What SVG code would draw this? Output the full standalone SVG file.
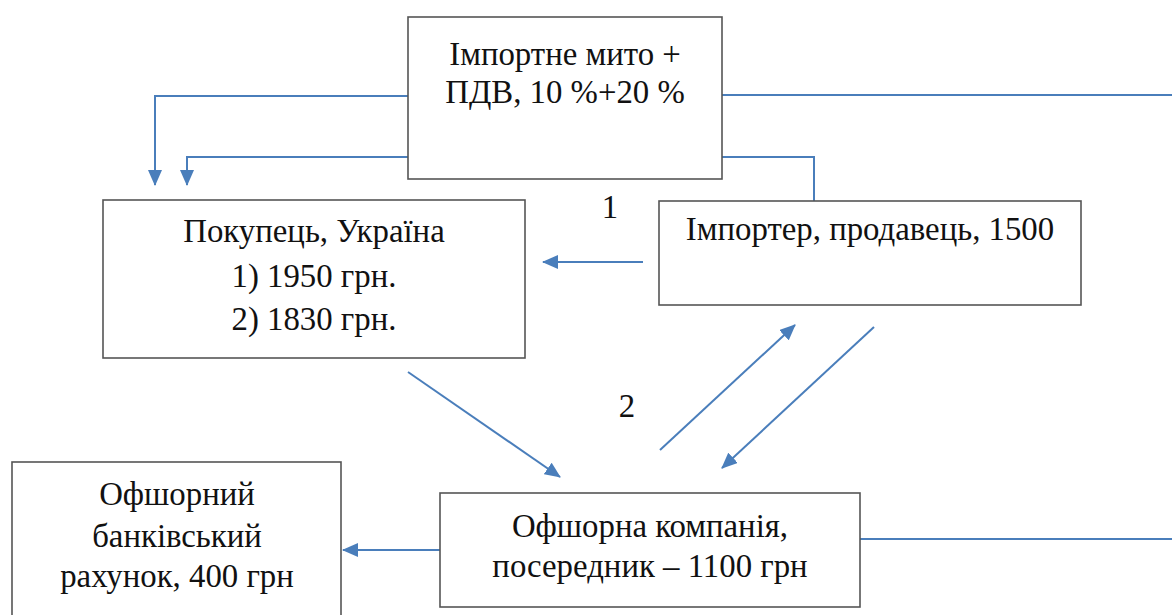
<svg xmlns="http://www.w3.org/2000/svg" width="1172" height="615" viewBox="0 0 1172 615">
<style>
.box{fill:#fff;stroke:#555;stroke-width:1.6}
text{font-family:'Liberation Serif','Times New Roman',serif;font-size:32.8px;fill:#111;text-anchor:middle}
.c{fill:none;stroke:#4a7ebb;stroke-width:2}
</style>
<defs>
<marker id="ah" markerUnits="userSpaceOnUse" markerWidth="16" markerHeight="14" viewBox="0 0 16 14" refX="15" refY="7" orient="auto">
<path d="M0,0 L16,7 L0,14 z" fill="#4a7ebb"/>
</marker>
</defs>
<g id="connectors">
<path class="c" d="M408,96 H155 V185" marker-end="url(#ah)"/>
<path class="c" d="M408,157 H187 V185" marker-end="url(#ah)"/>
<path class="c" d="M722,95 H1172"/>
<path class="c" d="M722,157 H814 V201"/>
<path class="c" d="M643,262 H543" marker-end="url(#ah)"/>
<path class="c" d="M660,450 L795,325" marker-end="url(#ah)"/>
<path class="c" d="M874,327 L722,468" marker-end="url(#ah)"/>
<path class="c" d="M408,372 L560,477" marker-end="url(#ah)"/>
<path class="c" d="M440,550 H343" marker-end="url(#ah)"/>
<path class="c" d="M860,539 H1172"/>
</g>
<g id="n-duty">
<rect class="box" x="408" y="17" width="314" height="162"/>
<text x="565" y="65">Імпортне мито +</text>
<text x="565" y="103">ПДВ, 10 %+20 %</text>
</g>
<g id="n-buyer">
<rect class="box" x="103" y="200" width="422" height="158"/>
<text x="314" y="242">Покупець, Україна</text>
<text x="314" y="287">1) 1950 грн.</text>
<text x="314" y="330">2) 1830 грн.</text>
</g>
<g id="n-importer">
<rect class="box" x="659" y="201" width="422" height="104"/>
<text x="870" y="240">Імпортер, продавець, 1500</text>
</g>
<g id="n-offshore-company">
<rect class="box" x="440" y="493" width="420" height="114"/>
<text x="650" y="537">Офшорна компанія,</text>
<text x="650" y="577">посередник – 1100 грн</text>
</g>
<g id="n-offshore-account">
<rect class="box" x="12" y="462" width="329" height="170"/>
<text x="177" y="505">Офшорний</text>
<text x="177" y="547">банківський</text>
<text x="177" y="587">рахунок, 400 грн</text>
</g>
<g id="labels">
<text x="610" y="218">1</text>
<text x="627" y="417">2</text>
</g>
</svg>
